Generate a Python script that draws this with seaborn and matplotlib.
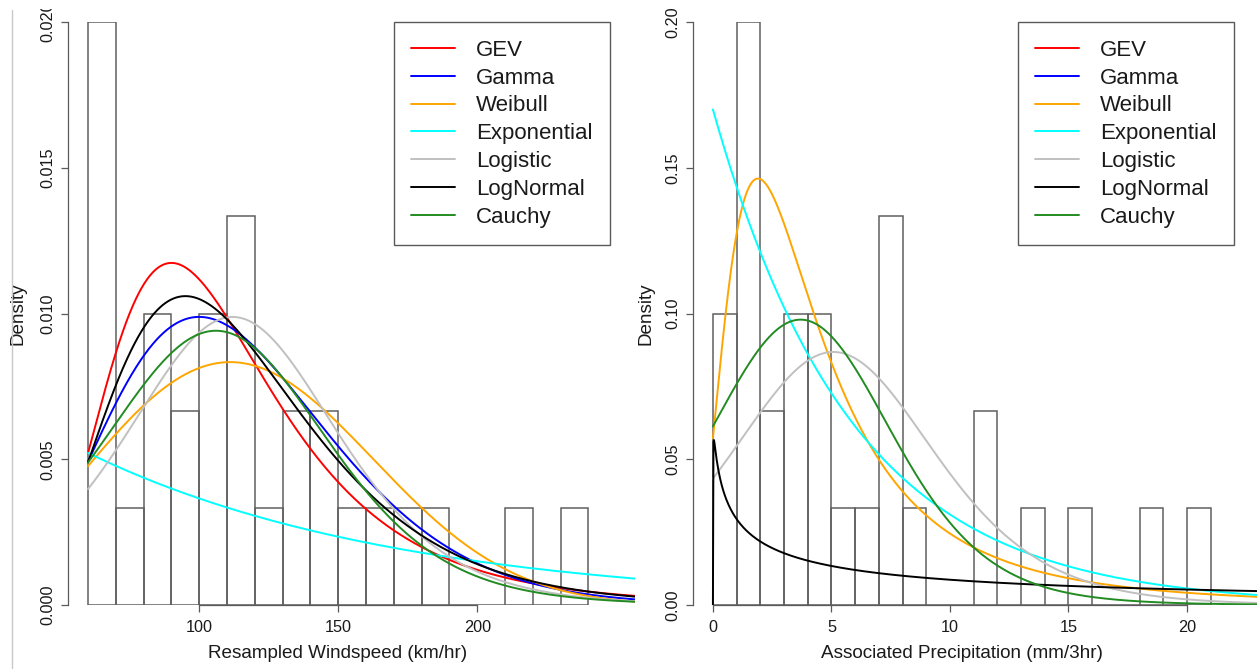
import math
import numpy as np
import pandas as pd
import matplotlib
matplotlib.use("Agg")
import matplotlib.pyplot as plt
from matplotlib.lines import Line2D
from matplotlib.patches import Rectangle
import seaborn as sns

# ---------------------------------------------------------------------------
# Data
# ---------------------------------------------------------------------------
# Resampled windspeed (km/hr): counts in 10 km/hr bins from 60 to 240
wind_edges = [60, 70, 80, 90, 100, 110, 120, 130, 140, 150, 160, 170, 180,
              190, 200, 210, 220, 230, 240]
wind_counts = [6, 1, 3, 2, 3, 4, 1, 2, 2, 1, 1, 1, 1, 0, 0, 1, 0, 1]

# Associated precipitation (mm/3hr): counts in 1 mm bins from 0 to 21
precip_edges = list(range(0, 22))
precip_counts = [3, 6, 2, 3, 3, 1, 1, 4, 1, 0, 0, 2, 0, 1, 0, 1, 0, 0, 1, 0, 1]

# Candidate distributions (legend order) and their line colours
dist_names = ["GEV", "Gamma", "Weibull", "Exponential", "Logistic",
              "LogNormal", "Cauchy"]
dist_colors = ["#FF0000", "#0000FF", "#FFA500", "#00FFFF", "#C0C0C0",
               "#000000", "#228B22"]

# Fitted density parameters for the windspeed sample
wind_fits = {
    "GEV": ("gev", [93.0, 31.5, 0.10]),            # loc, scale, shape
    "Gamma": ("gamma", [7.3, 15.87]),              # shape, scale
    "Weibull": ("weibull", [2.75, 131.0]),         # shape, scale
    "Exponential": ("exp", [0.0089]),              # rate
    "Logistic": ("logistic", [112.0, 25.3]),       # loc, scale
    "LogNormal": ("lognorm", [4.691, 0.37]),       # meanlog, sdlog
    "Cauchy": ("t", [106.0, 41.1, 8.0]),           # loc, scale, df
}

# Fitted density parameters for the precipitation sample
precip_fits = {
    "Weibull": ("gev", [2.75, 2.70, 0.40]),
    "Exponential": ("exp", [0.17]),
    "Logistic": ("logistic", [5.08, 2.88]),
    "LogNormal": ("lognorm", [5.09, 2.9]),
    "Cauchy": ("t", [3.7, 3.95, 8.0]),
}

wind_yticks = [0.0, 0.005, 0.010, 0.015, 0.020]
wind_ylabels = ["0.000", "0.005", "0.010", "0.015", "0.020"]
wind_xticks = [100, 150, 200]
precip_yticks = [0.0, 0.05, 0.10, 0.15, 0.20]
precip_ylabels = ["0.00", "0.05", "0.10", "0.15", "0.20"]
precip_xticks = [0, 5, 10, 15, 20]


# ---------------------------------------------------------------------------
# Density functions
# ---------------------------------------------------------------------------
def gev_pdf(x, loc, scale, shape):
    z = (x - loc) / scale
    s = 1.0 + shape * z
    out = np.zeros_like(x)
    ok = s > 0
    t = s[ok] ** (-1.0 / shape)
    out[ok] = t ** (shape + 1.0) * np.exp(-t) / scale
    return out


def gamma_pdf(x, shape, scale):
    out = np.zeros_like(x)
    ok = x > 0
    out[ok] = np.exp((shape - 1) * np.log(x[ok]) - x[ok] / scale
                     - math.lgamma(shape) - shape * math.log(scale))
    return out


def weibull_pdf(x, shape, scale):
    r = np.clip(x, 0, None) / scale
    return shape / scale * r ** (shape - 1) * np.exp(-r ** shape)


def exp_pdf(x, rate):
    return rate * np.exp(-rate * x)


def logistic_pdf(x, loc, scale):
    e = np.exp(-(x - loc) / scale)
    return e / (scale * (1 + e) ** 2)


def lognorm_pdf(x, meanlog, sdlog):
    out = np.zeros_like(x)
    ok = x > 0
    out[ok] = np.exp(-(np.log(x[ok]) - meanlog) ** 2 / (2 * sdlog ** 2)) / (
        x[ok] * sdlog * math.sqrt(2 * math.pi))
    return out


def student_t_pdf(x, loc, scale, df):
    z = (x - loc) / scale
    c = math.exp(math.lgamma((df + 1) / 2) - math.lgamma(df / 2)) / math.sqrt(df * math.pi)
    return c / scale * (1 + z ** 2 / df) ** (-(df + 1) / 2)


DENSITY = {
    "gev": gev_pdf,
    "gamma": gamma_pdf,
    "weibull": weibull_pdf,
    "exp": exp_pdf,
    "logistic": logistic_pdf,
    "lognorm": lognorm_pdf,
    "t": student_t_pdf,
}

# ---------------------------------------------------------------------------
# Style
# ---------------------------------------------------------------------------
sns.set_style("ticks")
plt.rcParams["font.family"] = ["Liberation Sans", "DejaVu Sans"]

AXIS_GRAY = "#5a5a5a"
BAR_GRAY = "#5f5f5f"
TICK_FS = 11.7
LABEL_FS = 13.6
LEGEND_FS = 16

W, H = 1257, 669
fig = plt.figure(figsize=(W / 100, H / 100), dpi=100)
fig.patch.set_facecolor("white")


def px_axes(left, right, bottom_from_top, top_from_top):
    return fig.add_axes([left / W, 1 - bottom_from_top / H,
                         (right - left) / W,
                         (bottom_from_top - top_from_top) / H])


def draw_panel(ax, edges, counts, fits, grid, xlim, ylim, xticks, yticks,
               ylabels, xlabel, xbounds, legend_right_px):
    edge_arr = np.asarray(edges, dtype=float)
    table = pd.DataFrame({"value": (edge_arr[:-1] + edge_arr[1:]) / 2,
                          "count": np.asarray(counts, dtype=float)})
    sns.histplot(data=table, x="value", weights="count",
                 bins=[float(e) for e in edges], stat="density", fill=False,
                 color=BAR_GRAY, linewidth=1.1, ax=ax)

    for name, color in zip(dist_names, dist_colors):
        if name not in fits:
            continue
        family, params = fits[name]
        dens = DENSITY[family](grid, *params)
        sns.lineplot(x=grid, y=dens, color=color, linewidth=1.4, ax=ax,
                     estimator=None, sort=False, legend=False)

    ax.set_facecolor("none")
    ax.set_xlim(*xlim)
    ax.set_ylim(*ylim)
    for side in ("top", "right"):
        ax.spines[side].set_visible(False)
    ax.spines["left"].set_color(AXIS_GRAY)
    ax.spines["bottom"].set_color(AXIS_GRAY)
    ax.spines["left"].set_linewidth(0.9)
    ax.spines["bottom"].set_linewidth(0.9)
    ax.spines["bottom"].set_bounds(*xbounds)

    ax.set_xticks(xticks)
    ax.set_xticklabels([str(t) for t in xticks], fontsize=TICK_FS)
    ax.set_yticks(yticks)
    ax.set_yticklabels(ylabels, fontsize=TICK_FS, rotation=90, va="center")
    ax.tick_params(axis="both", direction="out", length=5, width=0.9,
                   color=AXIS_GRAY, labelcolor="#1a1a1a")
    ax.tick_params(axis="x", pad=5.7)
    ax.tick_params(axis="y", pad=3.8)

    ax.set_xlabel(xlabel, fontsize=LABEL_FS, color="#1a1a1a")
    ax.set_ylabel("Density", fontsize=LABEL_FS, color="#1a1a1a")

    handles = [Line2D([], [], color=c, linewidth=1.4) for c in dist_colors]
    leg = ax.legend(handles, dist_names, loc="upper right",
                    bbox_to_anchor=(legend_right_px / W, 1 - 22 / H),
                    bbox_transform=fig.transFigure, borderaxespad=0,
                    frameon=True, fancybox=False, framealpha=1,
                    edgecolor=AXIS_GRAY, fontsize=LEGEND_FS,
                    handlelength=1.95, handletextpad=0.95,
                    labelspacing=0.306, borderpad=0.8)
    leg.get_frame().set_linewidth(1.0)
    for txt in leg.get_texts():
        txt.set_color("#1a1a1a")


# Left panel: windspeed
ax1 = px_axes(68, 635, 605, 22)
wind_xlim = (52.8, 52.8 + (635 - 68) / 2.78)
wind_grid = np.linspace(60, wind_xlim[1], 800)
draw_panel(ax1, wind_edges, wind_counts, wind_fits, wind_grid, wind_xlim,
           (0, 0.02), wind_xticks, wind_yticks, wind_ylabels,
           "Resampled Windspeed (km/hr)", (100, 200), 610)
ax1.xaxis.set_label_coords(0.476, -0.068)
ax1.yaxis.set_label_coords(-0.0725, 0.5)

# Right panel: precipitation
ax2 = px_axes(693, 1257, 605, 22)
precip_xlim = (-0.84, -0.84 + (1257 - 693) / 23.7)
precip_grid = np.linspace(0, precip_xlim[1], 1000)
draw_panel(ax2, precip_edges, precip_counts, precip_fits, precip_grid,
           precip_xlim, (0, 0.2), precip_xticks, precip_yticks,
           precip_ylabels, "Associated Precipitation (mm/3hr)", (0, 20), 1234)
ax2.xaxis.set_label_coords(0.4764, -0.068)
ax2.yaxis.set_label_coords(-0.0690, 0.5)

# Thin page border at the left edge and the clipped top strip
fig.add_artist(Line2D([12 / W, 12 / W], [0, 1 - 10 / H],
                      transform=fig.transFigure, color="#c8c8c8",
                      linewidth=1.0))
fig.add_artist(Rectangle((0, 1 - 9 / H), 1, 9 / H, transform=fig.transFigure,
                         facecolor="white", edgecolor="none", zorder=20))

fig.savefig("out.png", dpi=100)
